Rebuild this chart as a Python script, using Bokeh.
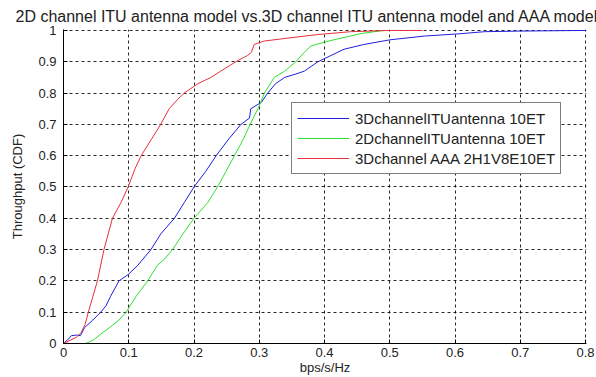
from bokeh.plotting import figure
from bokeh.models import Legend, LegendItem, FixedTicker, Range1d
from bokeh.embed import file_html
from bokeh.resources import INLINE

title_text = "2D channel ITU antenna model  vs.3D channel ITU antenna model and AAA model"
x_label = "bps/s/Hz"
y_label = "Throughput (CDF)"

x_ticks = [0, 0.1, 0.2, 0.3, 0.4, 0.5, 0.6, 0.7, 0.8]
x_tick_labels = ["0", "0.1", "0.2", "0.3", "0.4", "0.5", "0.6", "0.7", "0.8"]
y_ticks = [0, 0.1, 0.2, 0.3, 0.4, 0.5, 0.6, 0.7, 0.8, 0.9, 1.0]
y_tick_labels = ["0", "0.1", "0.2", "0.3", "0.4", "0.5", "0.6", "0.7", "0.8", "0.9", "1"]

series_names = ["3DchannelITUantenna 10ET", "2DchannelITUantenna 10ET", "3Dchannel AAA 2H1V8E10ET"]
series_colors = ["#1f1fdc", "#2ee02e", "#e6303a"]

blue_x = [0, 0.008, 0.012, 0.02, 0.026, 0.032, 0.045, 0.057, 0.065, 0.072, 0.085, 0.099, 0.114,
          0.134, 0.149, 0.17, 0.185, 0.2, 0.218, 0.234, 0.252, 0.272, 0.285, 0.287, 0.295, 0.303,
          0.313, 0.325, 0.339, 0.355, 0.369, 0.39, 0.41, 0.43, 0.46, 0.5, 0.553, 0.605, 0.645,
          0.7, 0.75, 0.8]
blue_y = [0, 0.015, 0.025, 0.027, 0.025, 0.05, 0.075, 0.1, 0.12, 0.15, 0.2, 0.22, 0.25,
          0.3, 0.35, 0.4, 0.45, 0.5, 0.55, 0.6, 0.65, 0.7, 0.72, 0.75, 0.76, 0.77,
          0.8, 0.83, 0.85, 0.86, 0.87, 0.9, 0.92, 0.94, 0.955, 0.97, 0.982, 0.989, 0.996,
          0.998, 0.999, 1.0]

green_x = [0.034, 0.045, 0.057, 0.07, 0.085, 0.096, 0.111, 0.129, 0.144, 0.155, 0.167, 0.183,
           0.2, 0.221, 0.236, 0.249, 0.262, 0.275, 0.286, 0.298, 0.308, 0.323, 0.339, 0.356,
           0.369, 0.379, 0.395, 0.414, 0.435, 0.456, 0.49]
green_y = [0, 0.01, 0.03, 0.05, 0.075, 0.1, 0.15, 0.2, 0.25, 0.27, 0.3, 0.35,
           0.4, 0.45, 0.5, 0.55, 0.6, 0.65, 0.7, 0.75, 0.8, 0.85, 0.87, 0.9,
           0.93, 0.95, 0.96, 0.97, 0.98, 0.99, 1.0]

red_x = [0, 0.01, 0.02, 0.027, 0.033, 0.038, 0.045, 0.052, 0.062, 0.075, 0.088, 0.099, 0.11,
         0.119, 0.134, 0.149, 0.162, 0.175, 0.185, 0.206, 0.226, 0.241, 0.264, 0.282, 0.288,
         0.292, 0.307, 0.338, 0.39, 0.44, 0.5, 0.55]
red_y = [0, 0.01, 0.02, 0.035, 0.06, 0.1, 0.15, 0.2, 0.3, 0.4, 0.45, 0.5, 0.56,
         0.6, 0.65, 0.7, 0.75, 0.78, 0.8, 0.83, 0.85, 0.87, 0.9, 0.92, 0.93,
         0.955, 0.966, 0.974, 0.987, 0.996, 1.0, 1.0]

FONT = "Liberation Sans"

p = figure(width=596, height=377, output_backend="svg", toolbar_location=None,
           x_range=Range1d(0, 0.8015), y_range=Range1d(0, 1.003),
           min_border_left=63, min_border_right=10, min_border_top=29, min_border_bottom=34,
           title=title_text)
p.outline_line_color = None
p.background_fill_color = "white"
p.border_fill_color = "white"

p.title.text_font = FONT
p.title.text_font_size = "16px"
p.title.text_font_style = "normal"
p.title.text_color = "#222222"
p.title.align = "left"
p.title.offset = -48
p.title.standoff = 10
p.title.vertical_align = "bottom"

for ax, ticks, labels in ((p.xaxis, x_ticks, x_tick_labels), (p.yaxis, y_ticks, y_tick_labels)):
    ax.ticker = FixedTicker(ticks=ticks)
    ax.major_label_overrides = {t: l for t, l in zip(ticks, labels)}
    ax.axis_line_color = "black"
    ax.axis_line_width = 1
    ax.major_tick_in = 4
    ax.major_tick_out = 0
    ax.minor_tick_line_color = None
    ax.major_tick_line_color = "black"
    ax.major_label_text_font = FONT
    ax.major_label_text_font_size = "13px"
    ax.major_label_text_color = "#222222"
    ax.axis_label_text_font = FONT
    ax.axis_label_text_font_size = "13px"
    ax.axis_label_text_font_style = "normal"
    ax.axis_label_text_color = "#222222"
p.xaxis.major_label_standoff = 4
p.yaxis.major_label_standoff = 7
p.xaxis.axis_label = x_label
p.yaxis.axis_label = y_label
p.xaxis.axis_label_standoff = 0
p.yaxis.axis_label_standoff = 10

for g in (p.xgrid, p.ygrid):
    g.grid_line_color = "black"
    g.grid_line_dash = "3 3"
    g.grid_line_alpha = 0.85
    g.grid_line_width = 1

rb = p.line(blue_x, blue_y, line_color=series_colors[0], line_width=1)
rg = p.line(green_x, green_y, line_color=series_colors[1], line_width=1)
rr = p.line(red_x, red_y, line_color=series_colors[2], line_width=1)

legend = Legend(items=[LegendItem(label=series_names[0], renderers=[rb]),
                       LegendItem(label=series_names[1], renderers=[rg]),
                       LegendItem(label=series_names[2], renderers=[rr])],
                location=(228, 169))
legend.border_line_color = "black"
legend.border_line_width = 1
legend.background_fill_color = "white"
legend.background_fill_alpha = 1
legend.label_text_font = FONT
legend.label_text_font_size = "15px"
legend.label_text_color = "#222222"
legend.glyph_width = 52
legend.glyph_height = 20
legend.label_height = 20
legend.spacing = 0
legend.padding = 5
legend.margin = 0
legend.label_standoff = 6
p.add_layout(legend)

open("out.html", "w").write(file_html(p, INLINE))
